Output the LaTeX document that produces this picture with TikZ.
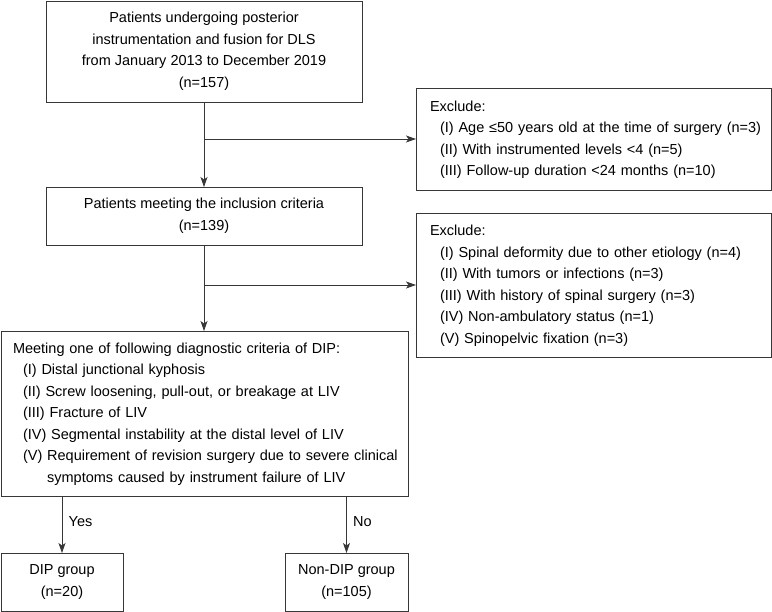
\documentclass[tikz,border=0pt]{standalone}
\usepackage{fontspec}
\setmainfont{Liberation Sans}
\usepackage{xcolor}
\definecolor{mygray}{RGB}{55,55,55}
\usetikzlibrary{arrows.meta}

\begin{document}
\begin{tikzpicture}[x=1pt,y=-1pt,line width=0.8pt,font=\fontsize{14.5}{21.5}\selectfont]
	\tikzstyle{kuang}=[draw=mygray,inner sep=0pt,outer sep=0pt,align=center];
	\tikzstyle{zuo}=[draw=mygray,inner xsep=14pt,inner ysep=0pt,outer sep=0pt,align=left];
	\tikzstyle{jian}=[draw=mygray,-{Stealth[length=10pt,width=7pt,inset=2.5pt]}];
	\useasboundingbox (0,0) rectangle (772,612);
	\node[kuang,minimum width=316,minimum height=101] (all) at (204,51.5)
		{Patients undergoing posterior\\instrumentation and fusion for DLS\\from January 2013 to December 2019\\(n=157)};
	\node[zuo,text width=327pt,minimum height=102] (excl1) at (593.5,139)
		{\begin{tabular}{@{}l@{}}
		Exclude:\\
		\hspace*{10pt}(I) Age ≤50 years old at the time of surgery (n=3)\\
		\hspace*{10pt}(II) With instrumented levels <4 (n=5)\\
		\hspace*{10pt}(III) Follow-up duration <24 months (n=10)
		\end{tabular}};
	\node[kuang,minimum width=316,minimum height=58] (incl) at (204,216)
		{Patients meeting the inclusion criteria\\(n=139)};
	\node[zuo,text width=327pt,minimum height=144] (excl2) at (593.5,285)
		{\begin{tabular}{@{}l@{}}
		Exclude:\\
		\hspace*{10pt}(I) Spinal deformity due to other etiology (n=4)\\
		\hspace*{10pt}(II) With tumors or infections (n=3)\\
		\hspace*{10pt}(III) With history of spinal surgery (n=3)\\
		\hspace*{10pt}(IV) Non-ambulatory status (n=1)\\
		\hspace*{10pt}(V) Spinopelvic fixation (n=3)
		\end{tabular}};
	\node[zuo,inner xsep=12pt,text width=383pt,minimum height=165] (dip) at (204.5,413.5)
		{\begin{tabular}{@{}l@{}}
		Meeting one of following diagnostic criteria of DIP:\\
		\hspace*{10pt}(I) Distal junctional kyphosis\\
		\hspace*{10pt}(II) Screw loosening, pull-out, or breakage at LIV\\
		\hspace*{10pt}(III) Fracture of LIV\\
		\hspace*{10pt}(IV) Segmental instability at the distal level of LIV\\
		\hspace*{10pt}(V) Requirement of revision surgery due to severe clinical\\
		\hspace*{10pt}\phantom{(V)\ }symptoms caused by instrument failure of LIV
		\end{tabular}};
	\node[kuang,minimum width=122,minimum height=58] (dipg) at (62,582)
		{DIP group\\(n=20)};
	\node[kuang,minimum width=123,minimum height=58] (nondip) at (346.5,582)
		{Non-DIP group\\(n=105)};
	\coordinate (fen1) at (all.south |- excl1.west);
	\coordinate (fen2) at (incl.south |- excl2.west);
	\draw[jian] (all) -- (incl);
	\draw[jian] (fen1) -- (excl1.west);
	\draw[jian] (incl) -- (incl |- dip.north);
	\draw[jian] (fen2) -- (excl2.west);
	\draw[jian] (dipg.north |- dip.south) -- node[right,xshift=3pt,pos=0.45]{Yes} (dipg.north);
	\draw[jian] (nondip.north |- dip.south) -- node[right,xshift=3pt,pos=0.45]{No} (nondip.north);
\end{tikzpicture}
\end{document}
